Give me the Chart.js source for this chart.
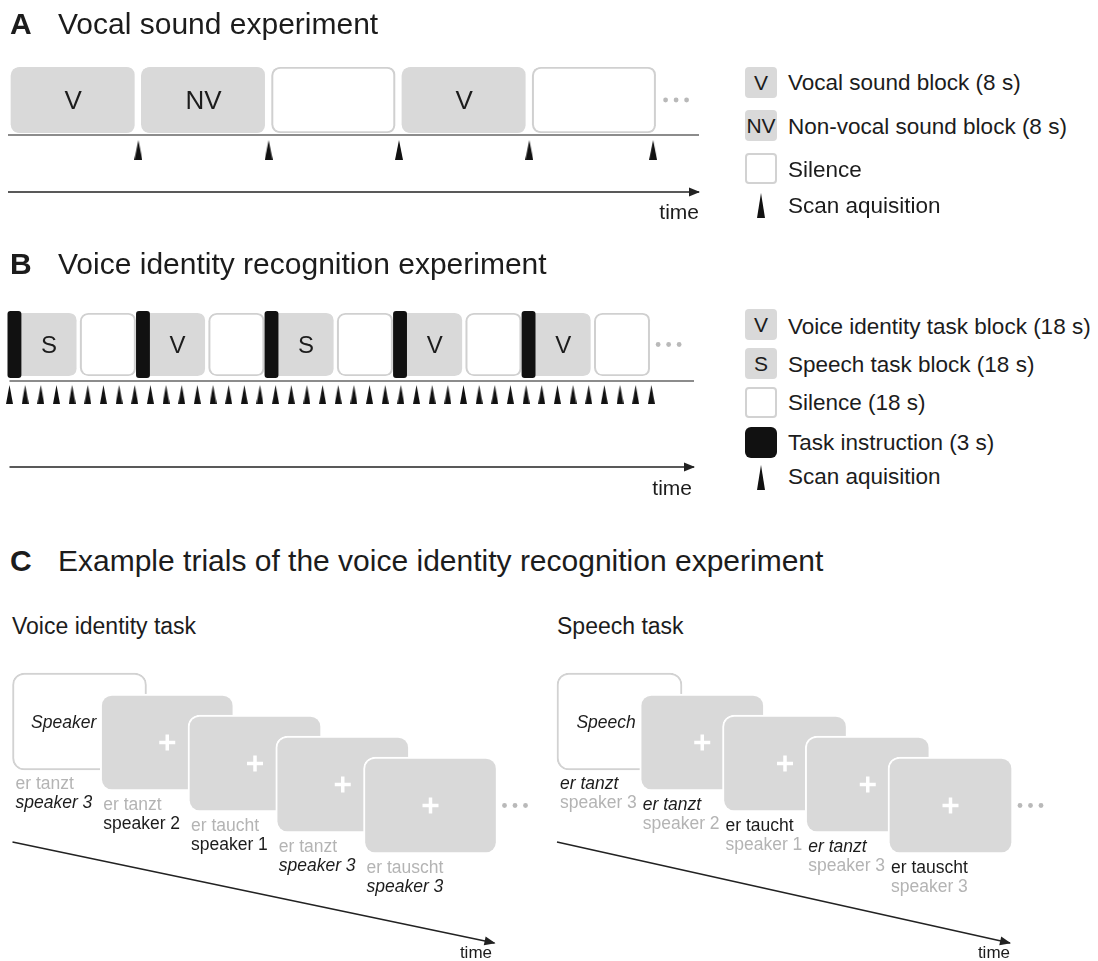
<!DOCTYPE html>
<html>
<head>
<meta charset="utf-8">
<title>Vocal sound and voice identity experiments</title>
<script src="https://cdn.jsdelivr.net/npm/chart.js@4.4.1/dist/chart.umd.min.js"></script>
<style>
  html, body { margin: 0; padding: 0; background: #fff; }
  body { position: relative; width: 1098px; height: 961px; overflow: hidden;
         font-family: "Liberation Sans", Arial, Helvetica, sans-serif; color: #1c1c1c; }
  canvas { position: absolute; }
  .t { position: absolute; white-space: nowrap; line-height: 1; }
  .title { font-size: 30px; }
  .sub { font-size: 23px; top: 615px; }
  .leg { font-size: 22.5px; left: 788px; }
  .time { font-size: 21px; }
  .timec { font-size: 17px; top: 944px; }
  .sw { position: absolute; left: 745px; width: 32px; height: 31px; box-sizing: border-box;
        border-radius: 4px; font-size: 21px; line-height: 31px; text-align: center; }
  .sw.grey { background: #d9d9d9; }
  .sw.white { background: #fff; border: 2px solid #d2d2d2; }
  .sw.black { background: #111; border-radius: 6px; }
  .tri { position: absolute; left: 757px; width: 0; height: 0;
         border-left: 4px solid transparent; border-right: 4px solid transparent;
         border-bottom: 25px solid #111; }
</style>
</head>
<body>
<canvas id="chartA" width="720" height="240" style="left:0;top:0"></canvas>
<canvas id="chartB" width="720" height="260" style="left:0;top:240px"></canvas>
<canvas id="chartVoice" width="540" height="321" style="left:0;top:640px"></canvas>
<canvas id="chartSpeech" width="558" height="321" style="left:540px;top:640px"></canvas>

<!-- A -->
<div class="t title" style="left:10px;top:9px"><b>A</b></div>
<div class="t title" style="left:58px;top:9px">Vocal sound experiment</div>
<div class="t time" style="right:399px;top:201px">time</div>
<div class="sw grey" style="top:67px">V</div>
<div class="t leg" style="top:72px">Vocal sound block (8 s)</div>
<div class="sw grey" style="top:110px">NV</div>
<div class="t leg" style="top:116px">Non-vocal sound block (8 s)</div>
<div class="sw white" style="top:153px"></div>
<div class="t leg" style="top:159px">Silence</div>
<div class="tri" style="top:193px"></div>
<div class="t leg" style="top:195px">Scan aquisition</div>

<!-- B -->
<div class="t title" style="left:10px;top:249px"><b>B</b></div>
<div class="t title" style="left:58px;top:249px">Voice identity recognition experiment</div>
<div class="t time" style="right:406px;top:477px">time</div>
<div class="sw grey" style="top:309px">V</div>
<div class="t leg" style="top:316px">Voice identity task block (18 s)</div>
<div class="sw grey" style="top:348px">S</div>
<div class="t leg" style="top:354px">Speech task block (18 s)</div>
<div class="sw white" style="top:387px"></div>
<div class="t leg" style="top:392px">Silence (18 s)</div>
<div class="sw black" style="top:427px"></div>
<div class="t leg" style="top:432px">Task instruction (3 s)</div>
<div class="tri" style="top:465px"></div>
<div class="t leg" style="top:466px">Scan aquisition</div>

<!-- C -->
<div class="t title" style="left:10px;top:546px"><b>C</b></div>
<div class="t title" style="left:58px;top:546px">Example trials of the voice identity recognition experiment</div>
<div class="t sub" style="left:12px">Voice identity task</div>
<div class="t sub" style="left:557px">Speech task</div>
<div class="t timec" style="right:606px">time</div>
<div class="t timec" style="right:88px">time</div>

<script>
const FONT = '"Liberation Sans", Arial, Helvetica, sans-serif';
const GREY = '#d9d9d9';
const RING = '#d0d0d0';
const INK = '#1c1c1c';
const PALE = '#b4b4b4';

// A: vocal sound experiment, blocks of 8 s ('' = silence)
const blocksA = ['V', 'NV', '', 'V', ''];
const blockSecondsA = 8;
const scanTimesA = [8, 16, 24, 32, 39.6];

// B: voice identity recognition experiment
const blocksB = ['S', 'V', 'S', 'V', 'V'];
const instructionSeconds = 3;
const taskSeconds = 18;
const silenceSeconds = 18;
const scanTimesB = [0, 4.75, 9.5, 14.25, 19, 23.75, 28.5, 33.25, 38, 42.75,
  47.5, 52.25, 57, 61.75, 66.5, 71.25, 76, 80.75, 85.5, 90.25,
  95, 99.75, 104.5, 109.25, 114, 118.75, 123.5, 128.25, 133, 137.75,
  142.5, 147.25, 152, 156.75, 161.5, 166.25, 171, 175.75, 180.5, 185.25,
  190, 194.75];

// C: example trials
const trialWords = ['er tanzt', 'er tanzt', 'er taucht', 'er tanzt', 'er tauscht'];
const trialSpeakers = ['speaker 3', 'speaker 2', 'speaker 1', 'speaker 3', 'speaker 3'];
const cueVoice = 'Speaker';
const targetVoice = 'speaker 3';
const cueSpeech = 'Speech';
const targetSpeech = 'er tanzt';

// ---------------------------------------------------------------
function makeTriangle(w, h) {
    const c = document.createElement('canvas');
    c.width = w;
    c.height = h;
    const g = c.getContext('2d');
    g.fillStyle = '#111';
    g.beginPath();
    g.moveTo(w / 2, 0);
    g.lineTo(w, h);
    g.lineTo(0, h);
    g.closePath();
    g.fill();
    return c;
}

function dots(ctx, x, y) {
    ctx.save();
    ctx.fillStyle = '#b9b9b9';
    for (let i = 0; i < 3; i++) {
        ctx.beginPath();
        ctx.arc(x + i * 10.5, y, 2.4, 0, Math.PI * 2);
        ctx.fill();
    }
    ctx.restore();
}

function arrowHead(ctx, x0, y0, x1, y1, color) {
    const ang = Math.atan2(y1 - y0, x1 - x0);
    ctx.save();
    ctx.translate(x1, y1);
    ctx.rotate(ang);
    ctx.fillStyle = color;
    ctx.beginPath();
    ctx.moveTo(1, 0);
    ctx.lineTo(-10, -4.5);
    ctx.lineTo(-10, 4.5);
    ctx.closePath();
    ctx.fill();
    ctx.restore();
}

// arrow heads at the end of line datasets flagged with arrowHead
const arrowHeads = {
    id: 'arrowHeads',
    afterDatasetsDraw(chart) {
        chart.data.datasets.forEach((ds, i) => {
            if (!ds.arrowHead) return;
            const pts = chart.getDatasetMeta(i).data;
            const a = pts[0], b = pts[pts.length - 1];
            arrowHead(chart.ctx, a.x, a.y, b.x, b.y, ds.borderColor);
        });
    }
};

// letters inside the blocks + the trailing "..."
const timelineLabels = {
    id: 'timelineLabels',
    afterDatasetsDraw(chart) {
        const ctx = chart.ctx;
        const xs = chart.scales.x;
        chart.data.datasets.forEach((ds, i) => {
            if (!ds.blockLabels) return;
            const els = chart.getDatasetMeta(i).data;
            ctx.save();
            ctx.font = ds.labelSize + 'px ' + FONT;
            ctx.fillStyle = INK;
            ctx.textAlign = 'center';
            ctx.textBaseline = 'alphabetic';
            ds.blockLabels.forEach((lab, j) => {
                if (!lab) return;
                ctx.fillText(lab, xs.getPixelForValue(ds.labelAt[j]), els[j].y + ds.labelSize * 0.358);
            });
            ctx.restore();
            const last = els[els.length - 1];
            dots(ctx, Math.max(last.x, last.base) + 6, last.y);
        });
    }
};

function baseOptions(xRange, yRange, padding, valueAxis) {
    const opts = {
        responsive: false,
        animation: false,
        events: [],
        layout: { padding, autoPadding: false },
        plugins: { legend: { display: false }, tooltip: { enabled: false } },
        scales: {
            x: { type: 'linear', min: xRange[0], max: xRange[1], offset: false, display: false },
            y: { type: 'linear', min: yRange[0], max: yRange[1], reverse: true, offset: false, display: false }
        }
    };
    opts.scales[valueAxis].stacked = false;
    return opts;
}

// ---------------------------------------------------------------
// A
const framesA = blocksA.map((label, i) => ({ label, start: i * blockSecondsA, end: (i + 1) * blockSecondsA }));
const timeEndA = 42.42;                                   // end of the time arrow, s
const rowA = { band: 100, base: 135, scan: 150, arrow: 192 }; // vertical layout (page px)

new Chart(document.getElementById('chartA'), {
    type: 'bar',
    data: {
        datasets: [
            {
                type: 'line', data: scanTimesA.map(t => ({ x: t, y: rowA.scan })),
                showLine: false, pointStyle: makeTriangle(8, 20), pointRadius: 6, order: 0, clip: false
            },
            {
                type: 'line', data: [{ x: 0, y: rowA.base }, { x: timeEndA, y: rowA.base }],
                borderColor: '#8c8c8c', borderWidth: 2, pointRadius: 0, order: 1, clip: false
            },
            {
                type: 'line', data: [{ x: 0, y: rowA.arrow }, { x: timeEndA, y: rowA.arrow }],
                borderColor: '#222', borderWidth: 1.6, pointRadius: 0, arrowHead: true, order: 1, clip: false
            },
            {
                // white inside of the silence blocks
                indexAxis: 'y', stack: 'row',
                data: framesA.filter(f => !f.label).map(f => ({ x: [f.start, f.end], y: rowA.band })),
                backgroundColor: '#fff', borderColor: 'rgba(0,0,0,0)',
                borderWidth: { left: 5, right: 6, top: 2, bottom: 2 }, borderSkipped: false,
                borderRadius: 12, barThickness: 66, order: 2, clip: false
            },
            {
                indexAxis: 'y', stack: 'row',
                data: framesA.map(f => ({ x: [f.start, f.end], y: rowA.band })),
                backgroundColor: framesA.map(f => f.label ? GREY : RING), borderColor: '#fff',
                borderWidth: { left: 3, right: 4, top: 0, bottom: 0 }, borderSkipped: false,
                borderRadius: 12, barThickness: 66, order: 3, clip: false,
                blockLabels: framesA.map(f => f.label),
                labelAt: framesA.map(f => (f.start + f.end) / 2),
                labelSize: 26
            }
        ]
    },
    options: baseOptions([0, timeEndA], [0, 240], { left: 8, right: 21, top: 0, bottom: 0 }, 'x'),
    plugins: [arrowHeads, timelineLabels]
});

// ---------------------------------------------------------------
// B
const cycleB = instructionSeconds + taskSeconds + silenceSeconds;
const framesB = [];
blocksB.forEach((label, i) => {
    const t0 = i * cycleB;
    const taskEnd = t0 + instructionSeconds + taskSeconds;
    framesB.push({ label, start: t0, end: taskEnd, at: t0 + instructionSeconds + taskSeconds / 2 });
    framesB.push({ label: '', start: taskEnd, end: t0 + cycleB, at: taskEnd + silenceSeconds / 2 });
});
const instructionsB = blocksB.map((_, i) => ({ start: i * cycleB, end: i * cycleB + instructionSeconds }));
const timeEndB = 207.7;
const rowB = { band: 344.5, base: 381, scan: 394.5, arrow: 467 };

new Chart(document.getElementById('chartB'), {
    type: 'bar',
    data: {
        datasets: [
            {
                type: 'line', data: scanTimesB.map(t => ({ x: t, y: rowB.scan })),
                showLine: false, pointStyle: makeTriangle(7, 19), pointRadius: 5, order: 0, clip: false
            },
            {
                indexAxis: 'y', stack: 'row',
                data: instructionsB.map(b => ({ x: [b.start, b.end], y: rowB.band })),
                backgroundColor: '#111', borderWidth: 0, borderSkipped: false,
                borderRadius: 3, barThickness: 63, inflateAmount: 2, order: 1, clip: false
            },
            {
                type: 'line', data: [{ x: 0, y: rowB.base }, { x: timeEndB, y: rowB.base }],
                borderColor: '#8c8c8c', borderWidth: 2, pointRadius: 0, order: 1, clip: false
            },
            {
                type: 'line', data: [{ x: 0, y: rowB.arrow }, { x: timeEndB, y: rowB.arrow }],
                borderColor: '#222', borderWidth: 1.6, pointRadius: 0, arrowHead: true, order: 1, clip: false
            },
            {
                indexAxis: 'y', stack: 'row',
                data: framesB.filter(f => !f.label).map(f => ({ x: [f.start, f.end], y: rowB.band })),
                backgroundColor: '#fff', borderColor: 'rgba(0,0,0,0)',
                borderWidth: { left: 3.5, right: 4.5, top: 2, bottom: 2 }, borderSkipped: false,
                borderRadius: 10, barThickness: 63, order: 2, clip: false
            },
            {
                indexAxis: 'y', stack: 'row',
                data: framesB.map(f => ({ x: [f.start, f.end], y: rowB.band })),
                backgroundColor: framesB.map(f => f.label ? GREY : RING), borderColor: '#fff',
                borderWidth: { left: 1.5, right: 2.5, top: 0, bottom: 0 }, borderSkipped: false,
                borderRadius: 10, barThickness: 63, order: 3, clip: false,
                blockLabels: framesB.map(f => f.label),
                labelAt: framesB.map(f => f.at),
                labelSize: 24
            }
        ]
    },
    options: baseOptions([0, timeEndB], [240, 500], { left: 9.5, right: 26, top: 0, bottom: 0 }, 'x'),
    plugins: [arrowHeads, timelineLabels]
});

// ---------------------------------------------------------------
// C: stacked trial screens; x = trial, y = trial step (card top)
const CARD_ROWS = 97 / 21;        // card height in trial steps

function trialText(o) {
    return {
        id: 'trialText',
        afterDatasetsDraw(chart) {
            const ctx = chart.ctx;
            const cards = chart.getDatasetMeta(1).data.map(el => ({
                left: el.x - el.width / 2,
                right: el.x + el.width / 2,
                top: Math.min(el.y, el.base),
                bottom: Math.max(el.y, el.base),
                cy: (el.y + el.base) / 2
            }));
            ctx.save();
            ctx.textBaseline = 'alphabetic';
            ctx.font = 'italic 17.5px ' + FONT;
            ctx.fillStyle = INK;
            ctx.textAlign = 'right';
            ctx.fillText(o.cue, cards[1].left - 4, cards[0].top + 55);

            ctx.textAlign = 'left';
            cards.forEach((c, k) => {
                [trialWords[k], trialSpeakers[k]].forEach((txt, li) => {
                    const emph = li === o.emphLine;
                    ctx.font = (emph && txt === o.target ? 'italic ' : '') + '17.5px ' + FONT;
                    ctx.fillStyle = emph ? INK : PALE;
                    ctx.fillText(txt, c.left + 3, c.bottom + 19 + li * 19);
                });
            });

            const last = cards[cards.length - 1];
            dots(ctx, last.right + 7, last.cy);

            const x0 = cards[0].left, y0 = cards[0].bottom + 72;
            const x1 = last.right - 3, y1 = last.bottom + 89;
            ctx.strokeStyle = '#222';
            ctx.lineWidth = 1.5;
            ctx.beginPath();
            ctx.moveTo(x0, y0);
            ctx.lineTo(x1, y1);
            ctx.stroke();
            arrowHead(ctx, x0, y0, x1, y1, '#222');
            ctx.restore();
        }
    };
}

function trialChart(canvasId, o) {
    const trials = trialWords.map((_, k) => k);
    new Chart(document.getElementById(canvasId), {
        type: 'bar',
        data: {
            datasets: [
                {
                    type: 'line', data: trials.slice(1).map(k => ({ x: k, y: k + CARD_ROWS / 2 })),
                    showLine: false, pointStyle: 'cross', pointRadius: 8,
                    pointBorderColor: '#fff', pointBorderWidth: 3.5, order: 0, clip: false
                },
                {
                    data: trials.map(k => ({ x: k, y: [k, k + CARD_ROWS] })),
                    backgroundColor: trials.map(k => k ? GREY : '#fff'),
                    borderColor: trials.map(k => k ? '#fff' : '#d2d2d2'),
                    borderWidth: 2, borderSkipped: false, borderRadius: 12,
                    barThickness: o.cardWidth, order: 1, clip: false
                }
            ]
        },
        options: baseOptions([-o.cx0 / o.pitch, (o.width - o.cx0) / o.pitch],
                             [-33 / 21, (321 - 33) / 21], 0, 'y'),
        plugins: [trialText(o)]
    });
}

trialChart('chartVoice', { cue: cueVoice, target: targetVoice, emphLine: 1,
                           cx0: 79.5, pitch: 87.75, cardWidth: 134, width: 540 });
trialChart('chartSpeech', { cue: cueSpeech, target: targetSpeech, emphLine: 0,
                            cx0: 79.5, pitch: 82.75, cardWidth: 125, width: 558 });
</script>
</body>
</html>
